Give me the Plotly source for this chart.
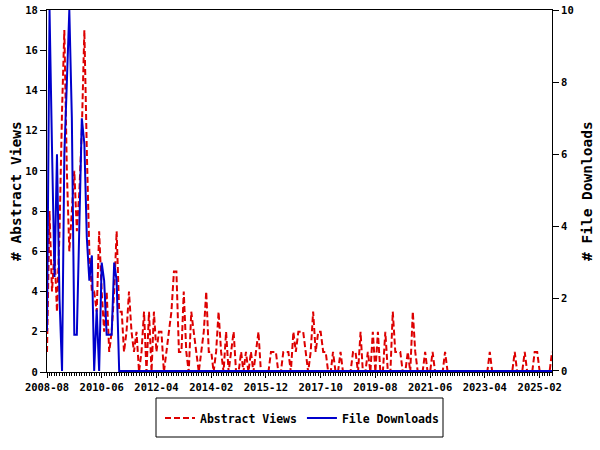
import pandas as pd
import plotly.graph_objects as go

months = pd.date_range("2008-08-01", periods=204, freq="MS")

abstract_views = [1, 8, 4, 6, 3, 7, 13, 17, 10, 6, 8, 10, 7, 9, 12, 17, 11, 6, 4, 4,
                  3, 7, 4, 2, 4, 1, 2, 4, 7, 3, 3, 1, 2, 4, 2, 1, 2, 0, 1, 3,
                  0, 3, 0, 3, 1, 2, 2, 0, 1, 2, 3, 5, 5, 1, 1, 4, 1, 0, 3, 2,
                  1, 0, 1, 2, 4, 1, 1, 0, 1, 3, 1, 0, 2, 0, 1, 2, 0, 0, 1, 0,
                  1, 0, 1, 0, 1, 2, 0, 0, 0, 0, 1, 1, 1, 0, 0, 1, 1, 1, 0, 2,
                  1, 2, 2, 2, 1, 0, 1, 3, 1, 2, 2, 1, 1, 0, 0, 1, 0, 0, 1, 0,
                  0, 0, 0, 1, 1, 0, 2, 0, 0, 1, 0, 2, 0, 2, 0, 0, 2, 0, 0, 3,
                  1, 1, 1, 0, 0, 1, 0, 3, 1, 0, 0, 0, 1, 0, 0, 1, 0, 0, 0, 0,
                  1, 0, 0, 0, 0, 0, 0, 0, 0, 0, 0, 0, 0, 0, 0, 0, 0, 0, 1, 0,
                  0, 0, 0, 0, 0, 0, 0, 0, 1, 0, 0, 0, 1, 0, 0, 0, 1, 1, 0, 0,
                  0, 0, 0, 1]

file_downloads = [1.1, 10, 6.2, 2.6, 6.0, 2.0, 0, 6.0, 8.0, 10, 7.0, 1.0, 1.0, 4.5, 7.0,
                  6.3, 3.7, 2.5, 3.2, 0, 1.7, 0, 3.0, 2.5, 1.0, 1.0, 1.0, 3.0, 2.5, 0] + [0] * 174

tick_labels = ["2008-08", "2010-06", "2012-04", "2014-02", "2015-12",
               "2017-10", "2019-08", "2021-06", "2023-04", "2025-02"]
tick_dates = [pd.Timestamp(t + "-01") for t in tick_labels]

font_family = "DejaVu Sans Mono"
tick_size = 10.5
W, H = 600, 450
L, T, R, B = 47, 10, 48, 78
pw, ph = W - L - R, H - T - B


def px_x(p):
    return (p - L) / pw


def px_y(p):
    return (H - B - p) / ph


fig = go.Figure()
fig.add_trace(go.Scatter(
    x=months, y=abstract_views, name="Abstract Views", mode="lines",
    line=dict(color="#dd0000", width=2, dash="6px,3px"), yaxis="y"))
fig.add_trace(go.Scatter(
    x=months, y=file_downloads, name="File Downloads", mode="lines",
    line=dict(color="#0000cc", width=2), yaxis="y2"))

fig.update_layout(
    width=W, height=H,
    margin=dict(l=L, r=R, t=T, b=B, autoexpand=False),
    paper_bgcolor="white", plot_bgcolor="white",
    font=dict(family=font_family, size=tick_size, color="black", weight="bold"),
    showlegend=True,
    legend=dict(orientation="h", x=px_x(160), xanchor="left", y=px_y(418), yanchor="middle",
                borderwidth=0, bgcolor="rgba(0,0,0,0)", itemwidth=30,
                font=dict(family=font_family, size=11.5, color="black", weight="bold")),
    xaxis=dict(
        range=[months[0], months[-1]], automargin=False,
        tickmode="array", tickvals=tick_dates, ticktext=tick_labels,
        ticks="outside", ticklen=5, tickcolor="black", tickwidth=1,
        showgrid=False, zeroline=False,
        showline=True, linecolor="black", linewidth=1, mirror=True,
        minor=dict(dtick="M1", ticks="outside", ticklen=3, tickcolor="black", showgrid=False),
        tickfont=dict(family=font_family, size=tick_size, weight="bold"),
    ),
    yaxis=dict(
        range=[0, 18], dtick=2, ticks="outside", ticklen=6, tickcolor="black", automargin=False,
        showgrid=False, zeroline=False, showline=True, linecolor="black", linewidth=1,
        tickfont=dict(family=font_family, size=tick_size, weight="bold"),
    ),
    yaxis2=dict(
        range=[-0.03, 10], tick0=0, dtick=2, overlaying="y", side="right", automargin=False,
        ticks="outside", ticklen=6, tickcolor="black",
        showgrid=False, zeroline=False, showline=True, linecolor="black", linewidth=1,
        tickfont=dict(family=font_family, size=tick_size, weight="bold"),
    ),
    shapes=[dict(type="rect", xref="paper", yref="paper",
                 x0=px_x(156), x1=px_x(443), y0=px_y(437), y1=px_y(398),
                 line=dict(color="black", width=1), fillcolor="rgba(0,0,0,0)")],
    annotations=[
        dict(text="# Abstract Views", xref="paper", yref="paper", x=px_x(16), y=0.5,
             textangle=-90, showarrow=False, xanchor="center", yanchor="middle",
             font=dict(family=font_family, size=14.5, weight="bold", color="black")),
        dict(text="# File Downloads", xref="paper", yref="paper", x=px_x(587), y=0.5,
             textangle=-90, showarrow=False, xanchor="center", yanchor="middle",
             font=dict(family=font_family, size=14.5, weight="bold", color="black")),
    ],
)

fig.write_html("out.html", config={"displayModeBar": False},
               post_script="document.body.style.margin='0';")
